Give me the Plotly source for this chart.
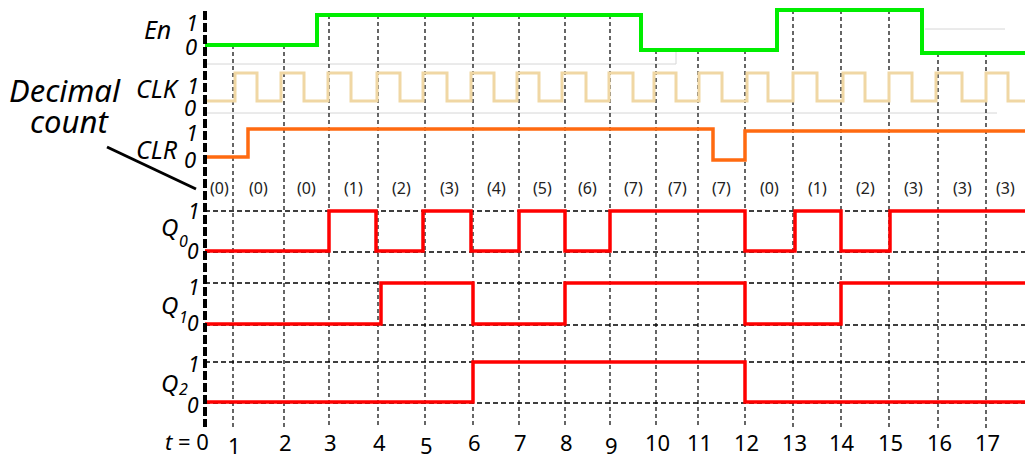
import plotly.graph_objects as go

# ---------------- data (time in drawing units; t = 0 at 0) ----------------
tick_labels = ["t = 0", "1", "2", "3", "4", "5", "6", "7", "8", "9",
               "10", "11", "12", "13", "14", "15", "16", "17"]
tick_times = [0, 28, 79, 124, 173, 220, 268, 314, 360, 405,
              451, 493, 540, 588, 636, 684, 733, 781]
t_end = 820

en_times = [0, 112, 436, 572, 717, 820]
en_values = [0, 1, 0, 1, 0, 0]

clk_rise = [30, 76, 123, 172, 218, 266, 312, 357, 404, 449, 494, 542, 588, 638, 684, 731, 781]
clk_fall = [52, 99, 146, 195, 242, 289, 334, 381, 428, 471, 517, 563, 612, 660, 707, 757, 803]

clr_times = [0, 43, 508, 540, 820]
clr_values = [0, 1, 0, 1, 1]

decimal_count = [0, 0, 0, 1, 2, 3, 4, 5, 6, 7, 7, 7, 0, 1, 2, 3, 3, 3]

q0_times = [0, 124, 171, 218, 266, 314, 360, 405, 540, 590, 636, 685, 820]
q0_values = [0, 1, 0, 1, 0, 1, 0, 1, 0, 1, 0, 1, 1]
q1_times = [0, 176, 268, 360, 540, 636, 820]
q1_values = [0, 1, 0, 1, 0, 1, 1]
q2_times = [0, 268, 540, 820]
q2_values = [0, 1, 0, 0]

# ---------------- styles / layout constants ----------------
FONT = "Noto Sans"
rows = {  # name: (baseline y for 0, height of 1)
    "En": (45, 30), "CLK": (101, 28), "CLR": (157, 28),
    "Q0": (251, 40), "Q1": (324, 41), "Q2": (402, 40),
}
en_shift = [0, 0, 5, -5, 8, 8]       # small drift of the pasted En trace
clr_shift = [0, 0, 3, 2, 2]


def ys(row, vals, shift=None):
    base, amp = rows[row]
    shift = shift or [0] * len(vals)
    return [base - v * amp + s for v, s in zip(vals, shift)]


fig = go.Figure()
shapes = []

# faint grey edges of pasted images
grey = dict(color="#d6d6d6", width=1)
shapes += [
    dict(type="line", x0=0, x1=471, y0=64, y1=64, line=grey, layer="below"),
    dict(type="line", x0=471, x1=471, y0=50, y1=64, line=grey, layer="below"),
    dict(type="line", x0=0, x1=792, y0=113, y1=113, line=grey, layer="below"),
    dict(type="line", x0=720, x1=800, y0=29, y1=29, line=grey, layer="below"),
]

# horizontal dashed reference lines for Q rows
for r in ["Q0", "Q1", "Q2"]:
    base, amp = rows[r]
    for yy in (base + 1, base - amp):
        shapes.append(dict(type="line", x0=0, x1=t_end, y0=yy, y1=yy, layer="below",
                           line=dict(color="black", width=1.5, dash="5px,3px")))

# vertical dashed time lines, starting at the En trace
en_y = ys("En", en_values, en_shift)
for t in tick_times[1:]:
    i = max(k for k in range(len(en_times)) if en_times[k] <= t)
    shapes.append(dict(type="line", x0=t, x1=t, y0=en_y[i], y1=428, layer="below",
                       line=dict(color="black", width=1.2, dash="4px,3px")))

# thick time axis
shapes.append(dict(type="line", x0=0, x1=0, y0=11, y1=427,
                   line=dict(color="black", width=4, dash="9px,3px")))

# diagonal pointer line
shapes.append(dict(type="line", x0=-98, x1=-9, y0=147, y1=189,
                   line=dict(color="black", width=3)))

# ---------------- signal traces ----------------
def step(x, y, color, width):
    fig.add_trace(go.Scatter(x=x, y=y, mode="lines", line_shape="hv",
                             line=dict(color=color, width=width),
                             hoverinfo="skip", showlegend=False))

clk_t = [0]
clk_v = [0]
for r_, f_ in zip(clk_rise, clk_fall):
    clk_t += [r_, f_]
    clk_v += [1, 0]
clk_t.append(t_end)
clk_v.append(0)

step(clk_t, ys("CLK", clk_v), "#f0d7a4", 3)
step(en_times, en_y, "#00ee00", 4)
step(clr_times, ys("CLR", clr_values, clr_shift), "#ff6a10", 3.5)
step(q0_times, ys("Q0", q0_values), "#ff0000", 3.5)
step(q1_times, ys("Q1", q1_values), "#ff0000", 3.5)
step(q2_times, ys("Q2", q2_values), "#ff0000", 3.5)

# ---------------- text ----------------
ann = []


def txt(x, y, s, size, italic=False, color="black", xanchor="center"):
    ann.append(dict(x=x, y=y, text=(f"<i>{s}</i>" if italic else s), showarrow=False,
                    xanchor=xanchor, yanchor="middle",
                    font=dict(family=FONT, size=size, color=color)))


P = lambda px: px - 205  # helper for label placement in drawing coordinates

txt(P(157), 29, "En", 25, True)
txt(P(192), 22, "1", 22, True)
txt(P(191), 46, "0", 22, True)
txt(P(158), 88, "CLK", 25, True)
txt(P(193), 85, "1", 22, True)
txt(P(190), 107, "0", 22, True)
txt(P(157), 149, "CLR", 25, True)
txt(P(192), 132, "1", 22, True)
txt(P(190), 159, "0", 22, True)

txt(P(65), 90, "Decimal", 31, True)
txt(P(69), 121, "count", 31, True)

for q, (qy, sy, oney, zeroy) in {"0": (226, 241, 211, 251),
                                 "1": (304, 317, 287, 323),
                                 "2": (382, 389, 364, 405)}.items():
    txt(P(169), qy, "Q", 24, True)
    txt(P(183), sy, q, 16, True)
    txt(P(194), oney, "1", 21, True)
    txt(P(193), zeroy, "0", 21, True)

# decimal count labels centred in each interval
bounds = tick_times + [t_end]
for k, c in enumerate(decimal_count):
    txt((bounds[k] + bounds[k + 1]) / 2, 188, f"({c})", 16, color="#222222")

# time tick labels
label_dy = {1: 3, 5: 3, 9: 3}
for k, (t, lab) in enumerate(zip(tick_times, tick_labels)):
    if k == 0:
        txt(t - 18, 441, "<i>t</i> = 0", 22)
    else:
        txt(t + 1, 442 + label_dy.get(k, 0), lab, 22)

fig.update_layout(
    width=1025, height=459, margin=dict(l=0, r=0, t=0, b=0),
    plot_bgcolor="white", paper_bgcolor="white",
    xaxis=dict(range=[-205, 820], visible=False, fixedrange=True),
    yaxis=dict(range=[459, 0], visible=False, fixedrange=True),
    shapes=shapes, annotations=ann,
)
fig.write_html("out.html", config={"displayModeBar": False},
               post_script="document.body.style.margin='0';document.body.style.overflow='hidden';")
